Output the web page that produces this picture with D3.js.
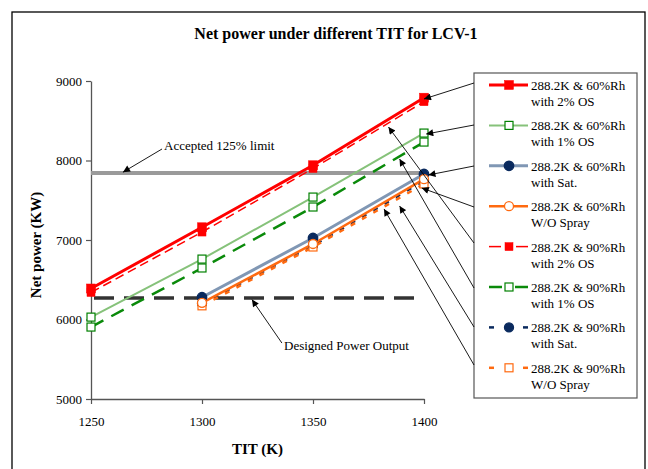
<!DOCTYPE html>
<html>
<head>
<meta charset="utf-8">
<script src="https://cdn.jsdelivr.net/npm/d3@7"></script>
<style>
  html, body { margin: 0; padding: 0; background: #fff; }
  svg { display: block; font-family: "Liberation Serif", "Times New Roman", serif; }
</style>
</head>
<body>
<svg id="chart" width="648" height="469"></svg>
<script>
// Turbine inlet temperature (K)
const tit = [1250, 1300, 1350, 1400];

// Net power (kW) per case; null where the case has no point
const rh60os2 = [6390, 7160, 7940, 8790];
const rh60os1 = [6030, 6760, 7540, 8345];
const rh60sat = [null, 6280, 7025, 7830];
const rh60dry = [null, 6210, 6950, 7765];
const rh90os2 = [6340, 7100, 7900, 8740];
const rh90os1 = [5905, 6648, 7415, 8232];
const rh90sat = [null, 6200, 6930, 7745];
const rh90dry = [null, 6172, 6912, 7705];

const seriesNames = [
  ["288.2K & 60%Rh", "with 2% OS"],
  ["288.2K & 60%Rh", "with 1% OS"],
  ["288.2K & 60%Rh", "with Sat."],
  ["288.2K & 60%Rh", "W/O Spray"],
  ["288.2K & 90%Rh", "with 2% OS"],
  ["288.2K & 90%Rh", "with 1% OS"],
  ["288.2K & 90%Rh", "with Sat."],
  ["288.2K & 90%Rh", "W/O Spray"]
];

// Reference levels (kW)
const acceptedLimit = 7843;
const designedOutput = 6270;

const yTicks = [5000, 6000, 7000, 8000, 9000];
const xTicks = [1250, 1300, 1350, 1400];

// Line / marker styling per series
const styles = [
  { stroke: "#ff0000", width: 3,   dash: null,  marker: "square", mFill: "#ff0000", mStroke: "#ff0000", mSize: 9 },
  { stroke: "#86c27a", width: 2,   dash: null,  marker: "square", mFill: "#ffffff", mStroke: "#008000", mSize: 8 },
  { stroke: "#8097b4", width: 3,   dash: null,  marker: "circle", mFill: "#0a2a5e", mStroke: "#0a2a5e", mSize: 9.5 },
  { stroke: "#ff6a10", width: 2.5, dash: null,  marker: "circle", mFill: "#ffffff", mStroke: "#ff6a10", mSize: 9 },
  { stroke: "#ff0000", width: 1.5, dash: "9,5", marker: "square", mFill: "#ff0000", mStroke: "#ff0000", mSize: 8 },
  { stroke: "#0a8a0a", width: 2.5, dash: "14,9", marker: "square", mFill: "#ffffff", mStroke: "#008000", mSize: 8 },
  { stroke: "#0a2a5e", width: 2.5, dash: "5,8", marker: "circle", mFill: "#0a2a5e", mStroke: "#0a2a5e", mSize: 9 },
  { stroke: "#ff6a10", width: 2.5, dash: "5,8", marker: "square", mFill: "#ffffff", mStroke: "#ff6a10", mSize: 8 }
];

const allSeries = [rh60os2, rh60os1, rh60sat, rh60dry, rh90os2, rh90os1, rh90sat, rh90dry];

// Callouts from each legend entry to its curve, target in data space
const calloutTargets = [
  [1400, 8774], [1401, 8333], [1402, 7818], [1399, 7654],
  [1384, 8421], [1389, 8019], [1389, 7428], [1382, 7390]
];

const svg = d3.select("#chart");

// outer frame
svg.append("rect")
  .attr("x", 12).attr("y", 12).attr("width", 633).attr("height", 470)
  .attr("fill", "none").attr("stroke", "#000").attr("stroke-width", 1.3);

const x = d3.scaleLinear().domain([1250, 1400]).range([91, 424]);
const y = d3.scaleLinear().domain([5000, 9000]).range([399, 81]);

// arrowhead
svg.append("defs").append("marker")
  .attr("id", "arrow")
  .attr("viewBox", "0 0 10 10")
  .attr("refX", 10).attr("refY", 5)
  .attr("markerUnits", "userSpaceOnUse")
  .attr("markerWidth", 9).attr("markerHeight", 7)
  .attr("orient", "auto")
  .append("path").attr("d", "M0,0 L10,5 L0,10 Z").attr("fill", "#000");

// axes
const yAxis = svg.append("g").attr("transform", `translate(${x(1250)},0)`)
  .call(d3.axisLeft(y).tickValues(yTicks).tickSize(5).tickSizeOuter(0).tickPadding(4).tickFormat(d3.format("d")));
const xAxis = svg.append("g").attr("transform", `translate(0,${y(5000)})`)
  .call(d3.axisBottom(x).tickValues(xTicks).tickSize(5).tickSizeOuter(0).tickPadding(13).tickFormat(d3.format("d")));
[yAxis, xAxis].forEach(g => {
  g.select(".domain").attr("stroke", "#555").attr("stroke-width", 1.3);
  g.selectAll(".tick line").attr("stroke", "#555").attr("stroke-width", 1.2);
  g.selectAll("text").attr("font-family", "Liberation Serif").attr("font-size", 13).attr("fill", "#000");
});

// reference lines
svg.append("line")
  .attr("x1", x(1250)).attr("x2", x(1400))
  .attr("y1", y(acceptedLimit)).attr("y2", y(acceptedLimit))
  .attr("stroke", "#9a9a9a").attr("stroke-width", 4);
svg.append("line")
  .attr("x1", x(1250) + 3).attr("x2", x(1400))
  .attr("y1", y(designedOutput)).attr("y2", y(designedOutput))
  .attr("stroke", "#333").attr("stroke-width", 3.5).attr("stroke-dasharray", "20,10");

// series lines
const line = d3.line()
  .defined(d => d[1] !== null)
  .x(d => x(d[0])).y(d => y(d[1]));

function drawMarker(g, st, cx, cy) {
  if (st.marker === "square") {
    const s = st.mSize;
    const filled = st.mFill !== "#ffffff";
    g.append("rect")
      .attr("x", cx - s / 2).attr("y", cy - s / 2)
      .attr("width", s).attr("height", s)
      .attr("fill", st.mFill).attr("stroke", st.mStroke)
      .attr("stroke-width", filled ? 0.5 : 1.2);
  } else {
    g.append("circle")
      .attr("cx", cx).attr("cy", cy).attr("r", st.mSize / 2)
      .attr("fill", st.mFill).attr("stroke", st.mStroke).attr("stroke-width", 1.3);
  }
}

// draw later series first so the 60% cases sit on top where they coincide
const order = [4, 5, 6, 7, 0, 1, 2, 3];
order.forEach(i => {
  const st = styles[i];
  const pts = tit.map((t, k) => [t, allSeries[i][k]]);
  const g = svg.append("g");
  g.append("path").datum(pts)
    .attr("d", line)
    .attr("fill", "none")
    .attr("stroke", st.stroke)
    .attr("stroke-width", st.width)
    .attr("stroke-dasharray", st.dash);
});
order.forEach(i => {
  const st = styles[i];
  const g = svg.append("g");
  tit.forEach((t, k) => {
    const v = allSeries[i][k];
    if (v !== null) drawMarker(g, st, x(t), y(v));
  });
});

// legend
const lgX = 474, lgY = 73, lgW = 163, lgH = 325;
svg.append("rect")
  .attr("x", lgX).attr("y", lgY).attr("width", lgW).attr("height", lgH)
  .attr("fill", "#fff").attr("stroke", "#555").attr("stroke-width", 1.2);

const entryY = i => 85 + i * 40.4;
seriesNames.forEach((nm, i) => {
  const st = styles[i];
  const ey = entryY(i);
  const g = svg.append("g");
  if (st.dash) {
    // short segments either side of the symbol
    const seg = (i >= 6) ? 5 : (i === 4 ? 12 : 13);
    g.append("line").attr("x1", 489).attr("x2", 489 + seg).attr("y1", ey).attr("y2", ey)
      .attr("stroke", st.stroke).attr("stroke-width", st.width);
    g.append("line").attr("x1", 528 - seg).attr("x2", 528).attr("y1", ey).attr("y2", ey)
      .attr("stroke", st.stroke).attr("stroke-width", st.width);
  } else {
    g.append("line").attr("x1", 489).attr("x2", 528).attr("y1", ey).attr("y2", ey)
      .attr("stroke", st.stroke).attr("stroke-width", st.width);
  }
  drawMarker(g, st, 509, ey);
  const t = g.append("text").attr("x", 531).attr("y", ey + 5)
    .attr("font-size", 13).attr("fill", "#000");
  t.append("tspan").attr("x", 531).text(nm[0]);
  t.append("tspan").attr("x", 531).attr("dy", 16).text(nm[1]);
});

// callouts from legend
const calloutStartY = [83, 125, 166, 207, 243, 288, 327, 365];
calloutTargets.forEach((tg, i) => {
  svg.append("line")
    .attr("x1", lgX).attr("y1", calloutStartY[i])
    .attr("x2", x(tg[0])).attr("y2", y(tg[1]))
    .attr("stroke", "#000").attr("stroke-width", 0.9)
    .attr("marker-end", "url(#arrow)");
});

// annotations
svg.append("text").attr("x", 164).attr("y", 150)
  .attr("font-size", 13).text("Accepted 125% limit");
svg.append("line")
  .attr("x1", x(1282)).attr("y1", y(8145))
  .attr("x2", x(1264.4)).attr("y2", y(acceptedLimit + 10))
  .attr("stroke", "#000").attr("stroke-width", 0.9).attr("marker-end", "url(#arrow)");

svg.append("text").attr("x", 284).attr("y", 350)
  .attr("font-size", 13).text("Designed Power Output");
svg.append("line")
  .attr("x1", x(1336)).attr("y1", y(5704))
  .attr("x2", x(1322.5)).attr("y2", y(designedOutput - 20))
  .attr("stroke", "#000").attr("stroke-width", 0.9).attr("marker-end", "url(#arrow)");

// titles
svg.append("text").attr("x", 336).attr("y", 39)
  .attr("text-anchor", "middle").attr("font-size", 16).attr("font-weight", "bold")
  .text("Net power under different TIT for LCV-1");
svg.append("text").attr("x", x(1325)).attr("y", 454)
  .attr("text-anchor", "middle").attr("font-size", 15).attr("font-weight", "bold")
  .text("TIT (K)");
svg.append("text")
  .attr("transform", `translate(41,${y(7000) + 5}) rotate(-90)`)
  .attr("text-anchor", "middle").attr("font-size", 15).attr("font-weight", "bold")
  .text("Net power (KW)");
</script>
</body>
</html>
